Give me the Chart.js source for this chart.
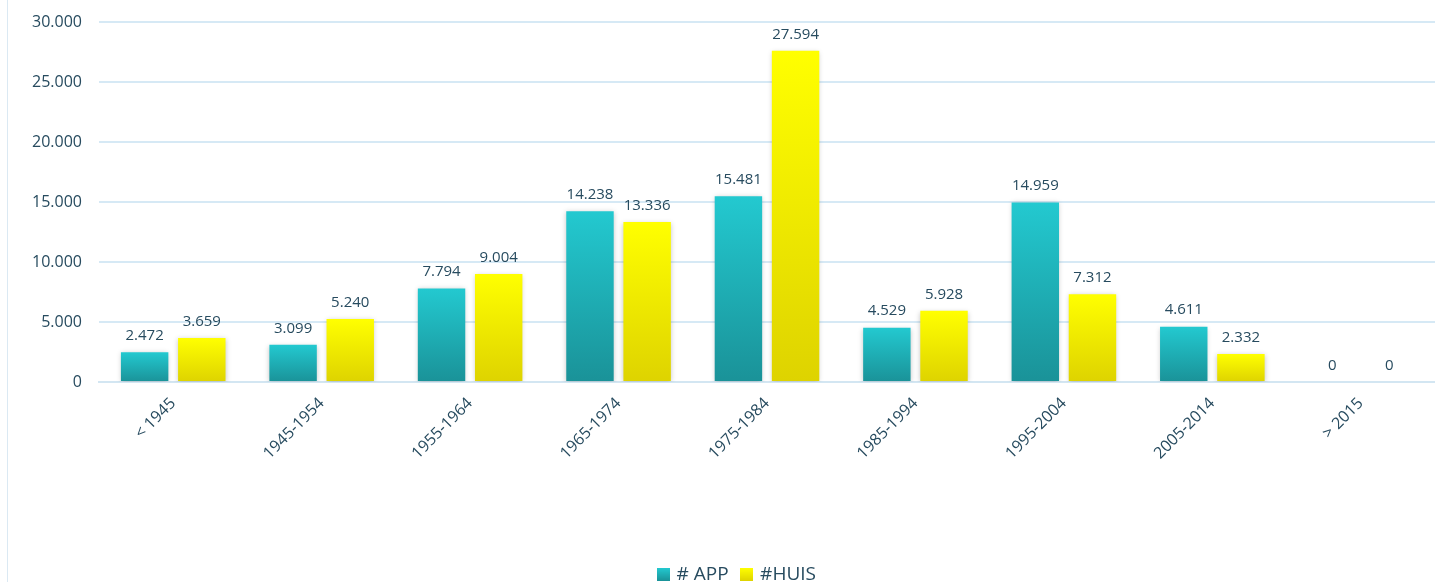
<!DOCTYPE html>
<html><head><meta charset="utf-8">
<script src="https://cdn.jsdelivr.net/npm/chart.js@4/dist/chart.umd.min.js"></script>
<style>
html,body{margin:0;padding:0;background:#fff;}
#wrap{position:relative;width:1435px;height:582px;}
#edge{position:absolute;left:7px;top:0;width:1px;height:582px;background:#dbe9f3;}
canvas{position:absolute;left:0;top:0;}
</style></head>
<body>
<div id="wrap"><div id="edge"></div><canvas id="c" width="1435" height="582"></canvas></div>
<script>
const categories = ["< 1945","1945-1954","1955-1964","1965-1974","1975-1984","1985-1994","1995-2004","2005-2014","> 2015"];
const appValues = [2472,3099,7794,14238,15481,4529,14959,4611,0];
const huisValues = [3659,5240,9004,13336,27594,5928,7312,2332,0];
const seriesNames = ["# APP","#HUIS"];
const yTicks = [0,5000,10000,15000,20000,25000,30000];

const TEXT = '#274b5f';
const FONT = "'Open Sans', sans-serif";

function fmt(v){
  return String(Math.round(v)).replace(/\B(?=(\d{3})+(?!\d))/g,'.');
}
function grad(top,bottom){
  return function(ctx){
    const chart = ctx.chart;
    const y = chart.scales && chart.scales.y;
    if(!y || ctx.type !== 'data') return top;
    const v = ctx.raw;
    const yTop = y.getPixelForValue(v), yBot = y.getPixelForValue(0);
    if(!isFinite(yTop) || yBot - yTop < 1) return top;
    const g = chart.ctx.createLinearGradient(0,yTop,0,yBot);
    g.addColorStop(0,top); g.addColorStop(1,bottom);
    return g;
  };
}
function legendGrad(top,bottom){
  const c = document.createElement('canvas'); c.width=13; c.height=13;
  const x = c.getContext('2d');
  const g = x.createLinearGradient(0,0,0,13);
  g.addColorStop(0,top); g.addColorStop(1,bottom);
  x.fillStyle=g; x.fillRect(0,0,13,13);
  return c;
}

const shadowPlugin = {
  id:'shadow',
  beforeDatasetsDraw(chart){
    const c = chart.ctx; c.save();
    c.shadowColor='rgba(0,0,0,0.22)'; c.shadowBlur=5; c.shadowOffsetX=0; c.shadowOffsetY=1;
  },
  afterDatasetsDraw(chart){ chart.ctx.restore(); }
};
const labelPlugin = {
  id:'vlabels',
  afterDatasetsDraw(chart){
    const c = chart.ctx; c.save();
    c.font = "15px " + FONT; c.fillStyle = TEXT; c.textAlign='center'; c.textBaseline='bottom';
    chart.data.datasets.forEach((ds,i)=>{
      const meta = chart.getDatasetMeta(i);
      meta.data.forEach((bar,j)=>{
        c.fillText(fmt(ds.data[j]), bar.x, bar.y - 9);
      });
    });
    c.restore();
  }
};
const legendShift = {
  id:'legendShift',
  afterLayout(chart){
    if(chart.legend){ chart.legend.left += 20; chart.legend.right += 20; }
  }
};

new Chart(document.getElementById('c'),{
  type:'bar',
  data:{
    labels:categories,
    datasets:[
      {label:seriesNames[0],data:appValues,backgroundColor:grad('#23c9d0','#1a9298'),categoryPercentage:0.77,barPercentage:0.83},
      {label:seriesNames[1],data:huisValues,backgroundColor:grad('#ffff00','#ded300'),categoryPercentage:0.77,barPercentage:0.83}
    ]
  },
  options:{
    responsive:false,
    animation:false,
    layout:{padding:{top:22,right:0,left:0,bottom:-12}},
    plugins:{
      legend:{
        position:'bottom',
        labels:{
          color:TEXT,font:{family:FONT,size:19},boxWidth:13,boxHeight:13,pointStyleWidth:8,padding:14,
          generateLabels(chart){
            const imgs=[legendGrad('#23c9d0','#1a9298'),legendGrad('#ffff00','#ded300')];
            return chart.data.datasets.map((d,i)=>({text:d.label,fillStyle:'#23c9d0',pointStyle:imgs[i],lineWidth:0,strokeStyle:'rgba(0,0,0,0)',datasetIndex:i,fontColor:TEXT}));
          },
          usePointStyle:true
        }
      },
      tooltip:{enabled:false}
    },
    scales:{
      x:{
        grid:{display:false,drawTicks:false},
        border:{display:true,color:'#d3e6f2',width:2},
        ticks:{color:TEXT,font:{family:FONT,size:16},minRotation:45,maxRotation:45,padding:12},
        afterFit(s){ s.height = 169; }
      },
      y:{
        min:0,max:30000,
        afterBuildTicks(s){ s.ticks = yTicks.map(v=>({value:v})); },
        grid:{color:'#d6e9f5',lineWidth:2,drawTicks:true,tickLength:17,tickColor:'rgba(0,0,0,0)'},
        border:{display:false},
        ticks:{color:TEXT,font:{family:FONT,size:16},padding:0,callback:v=>fmt(v)},
        afterFit(s){ s.width = 99; }
      }
    }
  },
  plugins:[shadowPlugin,labelPlugin,legendShift]
});
</script>
</body></html>
